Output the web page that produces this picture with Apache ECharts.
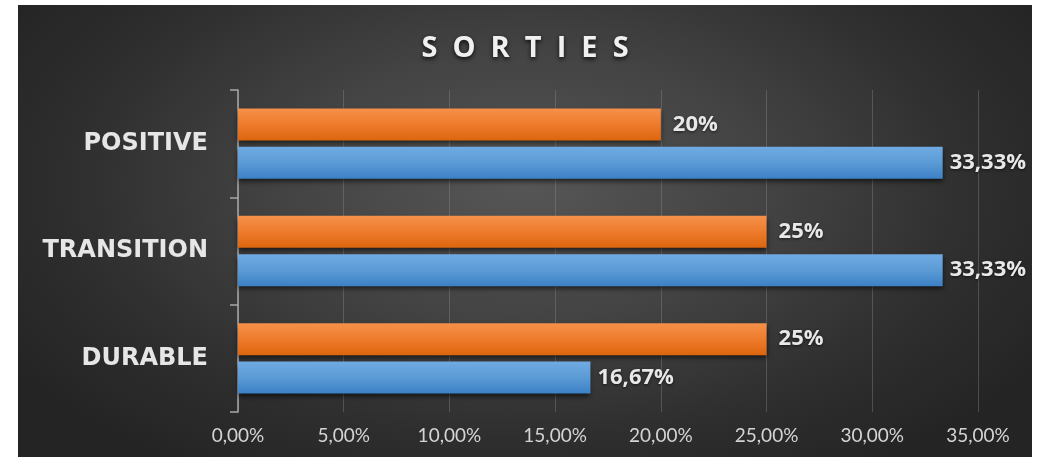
<!DOCTYPE html>
<html>
<head>
<meta charset="utf-8">
<script src="https://cdn.jsdelivr.net/npm/echarts@6/dist/echarts.min.js"></script>
<style>
  html, body { margin: 0; padding: 0; background: #ffffff; width: 1040px; height: 457px; overflow: hidden; }
  #chart {
    position: absolute; left: 18px; top: 5px; width: 1014px; height: 452px;
    background: radial-gradient(ellipse 60% 75% at 50% 40%, #565656 0%, #434343 40%, #2e2e2e 75%, #242424 100%);
  }
</style>
</head>
<body>
<div id="chart"></div>
<script>
const titleText = 'SORTIES';
const categories = ['DURABLE', 'TRANSITION', 'POSITIVE'];
const orangeValues = [25, 25, 20];
const blueValues = [16.67, 33.33, 33.33];
const axisMin = 0;
const axisMax = 35;
const axisInterval = 5;

function pct2(v) { return v.toFixed(2).replace('.', ',') + '%'; }
function pctShort(v) { return (Math.round(v * 100) / 100).toString().replace('.', ',') + '%'; }

const chart = echarts.init(document.getElementById('chart'), null, { renderer: 'canvas' });

const labelStyle = {
  show: true,
  position: 'right',
  color: '#e8e8e8',
  fontFamily: 'Open Sans',
  fontWeight: 'bold',
  fontSize: 22,
  textShadowColor: 'rgba(0,0,0,0.6)',
  textShadowBlur: 3,
  textShadowOffsetY: 1
};

chart.setOption({
  backgroundColor: 'transparent',
  animation: false,
  title: {
    text: titleText.split('').join('  '),
    left: 'center',
    top: 24,
    textStyle: {
      color: '#f0f0f0',
      fontFamily: 'Open Sans',
      fontWeight: 'bold',
      fontSize: 29,
      textShadowColor: 'rgba(0,0,0,0.8)',
      textShadowBlur: 4,
      textShadowOffsetY: 2
    }
  },
  grid: { left: 220, right: 54, top: 85, bottom: 45, containLabel: false },
  xAxis: {
    type: 'value',
    min: axisMin,
    max: axisMax,
    interval: axisInterval,
    axisLine: { show: false },
    axisTick: { show: false },
    splitLine: { show: true, lineStyle: { color: 'rgba(150,150,150,0.35)', width: 1 } },
    axisLabel: {
      color: '#d4d4d4',
      fontFamily: 'Lato',
      fontSize: 19,
      margin: 14,
      formatter: function (v) { return pct2(v); }
    }
  },
  yAxis: {
    type: 'category',
    data: categories,
    axisLine: { show: true, lineStyle: { color: '#a8a8a8', width: 1.5 } },
    axisTick: { show: true, length: 8, lineStyle: { color: '#a8a8a8', width: 1.5 } },
    splitLine: { show: false },
    axisLabel: {
      color: '#e6e6e6',
      fontFamily: 'DejaVu Sans',
      fontWeight: 'bold',
      fontSize: 24,
      margin: 30
    }
  },
  series: [
    {
      name: 'Série 2',
      type: 'bar',
      data: orangeValues,
      barWidth: 32,
      barGap: '20%',
      itemStyle: {
        color: new echarts.graphic.LinearGradient(0, 0, 0, 1, [
          { offset: 0, color: '#f5914a' },
          { offset: 0.5, color: '#ee7b2c' },
          { offset: 1, color: '#dd650e' }
        ]),
        shadowColor: 'rgba(0,0,0,0.6)',
        shadowBlur: 5,
        shadowOffsetY: 3
      },
      label: Object.assign({}, labelStyle, { distance: 12, formatter: function (p) { return pctShort(p.value); } })
    },
    {
      name: 'Série 1',
      type: 'bar',
      data: blueValues,
      barWidth: 32,
      barGap: '20%',
      itemStyle: {
        color: new echarts.graphic.LinearGradient(0, 0, 0, 1, [
          { offset: 0, color: '#70aae2' },
          { offset: 0.5, color: '#5b9bd5' },
          { offset: 1, color: '#3c80c6' }
        ]),
        shadowColor: 'rgba(0,0,0,0.6)',
        shadowBlur: 5,
        shadowOffsetY: 3
      },
      label: Object.assign({}, labelStyle, { distance: 7, formatter: function (p) { return pct2(p.value); } })
    }
  ]
});
</script>
</body>
</html>
